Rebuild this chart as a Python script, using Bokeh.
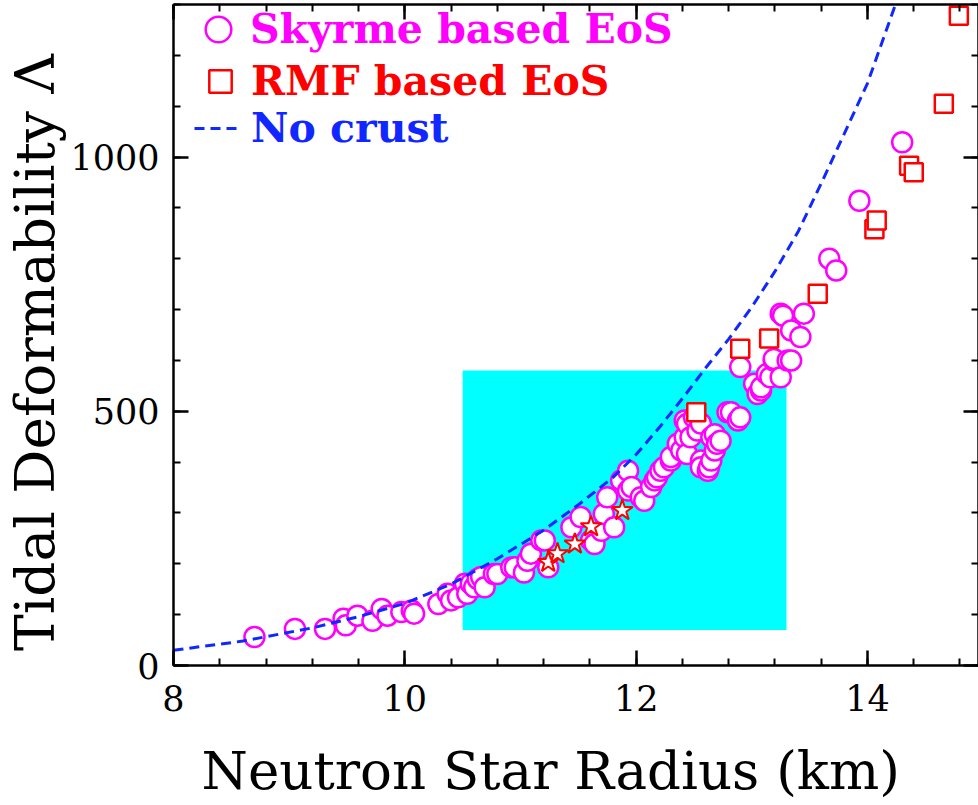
import numpy as np
from bokeh.plotting import figure
from bokeh.models import Range1d, LinearAxis, FixedTicker, Legend, LegendItem
from bokeh.embed import file_html
from bokeh.resources import INLINE

# ---- data ----
skyrme_R = [8.70, 9.05, 9.31, 9.47, 9.49, 9.59, 9.72, 9.80, 9.85, 9.97, 10.06, 10.08,
            10.29, 10.37, 10.40, 10.46, 10.52, 10.54, 10.57, 10.60, 10.63, 10.66, 10.69,
            10.77, 10.80, 10.92, 10.95, 11.03, 11.06, 11.09, 11.18, 11.21, 11.24, 11.44,
            11.52, 11.61, 11.64, 11.70, 11.72, 11.75, 11.81, 11.87, 11.93, 11.93, 11.96,
            12.04, 12.07, 12.13, 12.16, 12.18, 12.21, 12.24, 12.30, 12.30, 12.36, 12.39,
            12.42, 12.42, 12.44, 12.44, 12.47, 12.50, 12.53, 12.56, 12.56, 12.56, 12.62,
            12.63, 12.65, 12.65, 12.68, 12.68, 12.70, 12.73, 12.79, 12.82, 12.88, 12.90,
            12.90, 13.02, 13.05, 13.08, 13.08, 13.13, 13.16, 13.19, 13.19, 13.25, 13.25,
            13.27, 13.31, 13.34, 13.34, 13.42, 13.45, 13.67, 13.73, 13.93, 14.30]
skyrme_L = [56, 72, 72, 92, 79, 98, 88, 111, 98, 105, 108, 102,
            121, 141, 128, 134, 161, 141, 161, 154, 170, 174, 154,
            180, 180, 193, 193, 183, 206, 220, 246, 246, 193, 272,
            292, 246, 239, 265, 298, 331, 272, 364, 383, 344, 351,
            331, 324, 351, 364, 370, 383, 390, 403, 410, 436, 423,
            449, 482, 416, 475, 449, 488, 462, 476, 403, 390, 383,
            390, 449, 403, 455, 423, 436, 442, 498, 498, 482, 488,
            587, 554, 534, 541, 547, 573, 567, 600, 603, 567, 692,
            688, 600, 600, 659, 646, 692, 800, 777, 914, 1029]
rmf_R = [12.52, 12.90, 13.15, 13.57, 14.06, 14.08, 14.36, 14.40, 14.66, 14.79]
rmf_L = [498, 623, 643, 731, 858, 875, 983, 970, 1105, 1278]
star_R = [11.24, 11.32, 11.47, 11.61, 11.88]
star_L = [203, 220, 239, 273, 305]
nocrust_R = [8.0, 8.6, 9.2, 9.6, 10.0, 10.4, 10.8, 11.2, 11.5, 11.8, 12.0, 12.2,
             12.4, 12.6, 12.8, 13.0, 13.2, 13.4, 13.6, 13.8, 14.0, 14.25]
nocrust_L = [30, 48, 74, 96, 122, 160, 210, 266, 316, 370, 415, 468,
             525, 585, 642, 705, 775, 853, 948, 1046, 1145, 1305]
gw_R = [10.5, 13.3]
gw_L = [70, 580]
x_ticks = [8, 10, 12, 14]
y_ticks = [0, 500, 1000]
x_minor = [round(8 + 0.4 * i, 2) for i in range(18)]
y_minor = list(range(0, 1301, 100))
NBSP = "\u00a0"
x_title = "Neutron Star Radius (km)" + NBSP * 3
y_title = "Tidal Deformability Λ" + NBSP * 2

SERIF = "DejaVu Serif"

p = figure(width=978, height=805,
           x_range=Range1d(8, 14.96), y_range=Range1d(0, 1300),
           output_backend="svg", toolbar_location=None,
           min_border_left=172, min_border_right=0,
           min_border_top=4, min_border_bottom=140)
p.grid.visible = False
p.outline_line_color = None
p.background_fill_color = "white"
p.border_fill_color = "white"

# GW170817 box
p.quad(left=[gw_R[0]], right=[gw_R[1]], bottom=[gw_L[0]], top=[gw_L[1]],
       fill_color="#00ffff", line_color=None)

r_sky = p.scatter(skyrme_R, skyrme_L, marker="circle", size=20,
                  fill_color="white", line_color="#ff00ff", line_width=2.5)
r_rmf = p.scatter(rmf_R, rmf_L, marker="square", size=18,
                  fill_color="white", line_color="#ff0000", line_width=2.5)
p.scatter(star_R, star_L, marker="star", size=22,
          fill_color="white", line_color="#ff0000", line_width=2)
r_nc = p.line(nocrust_R, nocrust_L, line_color="#1028ff", line_width=3,
              line_dash="10 6")

def style_axis(ax, labels=True):
    ax.axis_line_width = 2.5
    ax.axis_line_color = "black"
    ax.major_tick_in = 15
    ax.major_tick_out = 0
    ax.minor_tick_in = 7
    ax.minor_tick_out = 0
    ax.major_tick_line_width = 2.5
    ax.minor_tick_line_width = 2
    if labels:
        ax.major_label_text_font = SERIF
        ax.major_label_text_font_size = "35px"
        ax.major_label_text_color = "black"
        ax.axis_label_text_font = SERIF
        ax.axis_label_text_font_size = "53px"
        ax.axis_label_text_font_style = "normal"
        ax.axis_label_text_color = "black"
    else:
        ax.major_label_text_font_size = "0px"
        ax.major_label_standoff = 0
        ax.axis_label = None
        ax.axis_label_standoff = 0

xt = FixedTicker(ticks=x_ticks, minor_ticks=x_minor)
yt = FixedTicker(ticks=y_ticks, minor_ticks=y_minor)

xa = p.xaxis[0]
xa.ticker = xt
xa.axis_label = x_title
style_axis(xa)
xa.major_label_standoff = 19
xa.axis_label_standoff = 26

ya = p.yaxis[0]
ya.ticker = yt
ya.axis_label = y_title
style_axis(ya)
ya.axis_label_text_font_size = "55px"
ya.major_label_standoff = 14
ya.axis_label_standoff = 0

top = LinearAxis(ticker=xt)
style_axis(top, labels=False)
p.add_layout(top, "above")
right = LinearAxis(ticker=yt)
style_axis(right, labels=False)
right.major_label_overrides = {t: "" for t in y_ticks}
p.add_layout(right, "right")

def make_legend(label, rend, color, loc, gw, gh, standoff):
    lg = Legend(items=[LegendItem(label=label, renderers=[rend])],
                location=loc, glyph_width=gw, glyph_height=gh,
                label_standoff=standoff, padding=0, margin=0, spacing=0,
                border_line_color=None, background_fill_alpha=0,
                label_text_font=SERIF, label_text_font_size="41px",
                label_text_font_style="bold", label_text_color=color)
    p.add_layout(lg)

make_legend("Skyrme based EoS", r_sky, "#ff00ff", (13, 601), 64, 70, 0)
make_legend("RMF based EoS", r_rmf, "#ff0000", (19, 556), 56, 56, 3)
make_legend("No crust", r_nc, "#1028ff", (21, 513), 47, 40, 10)

open("out.html", "w").write(file_html(p, INLINE))
